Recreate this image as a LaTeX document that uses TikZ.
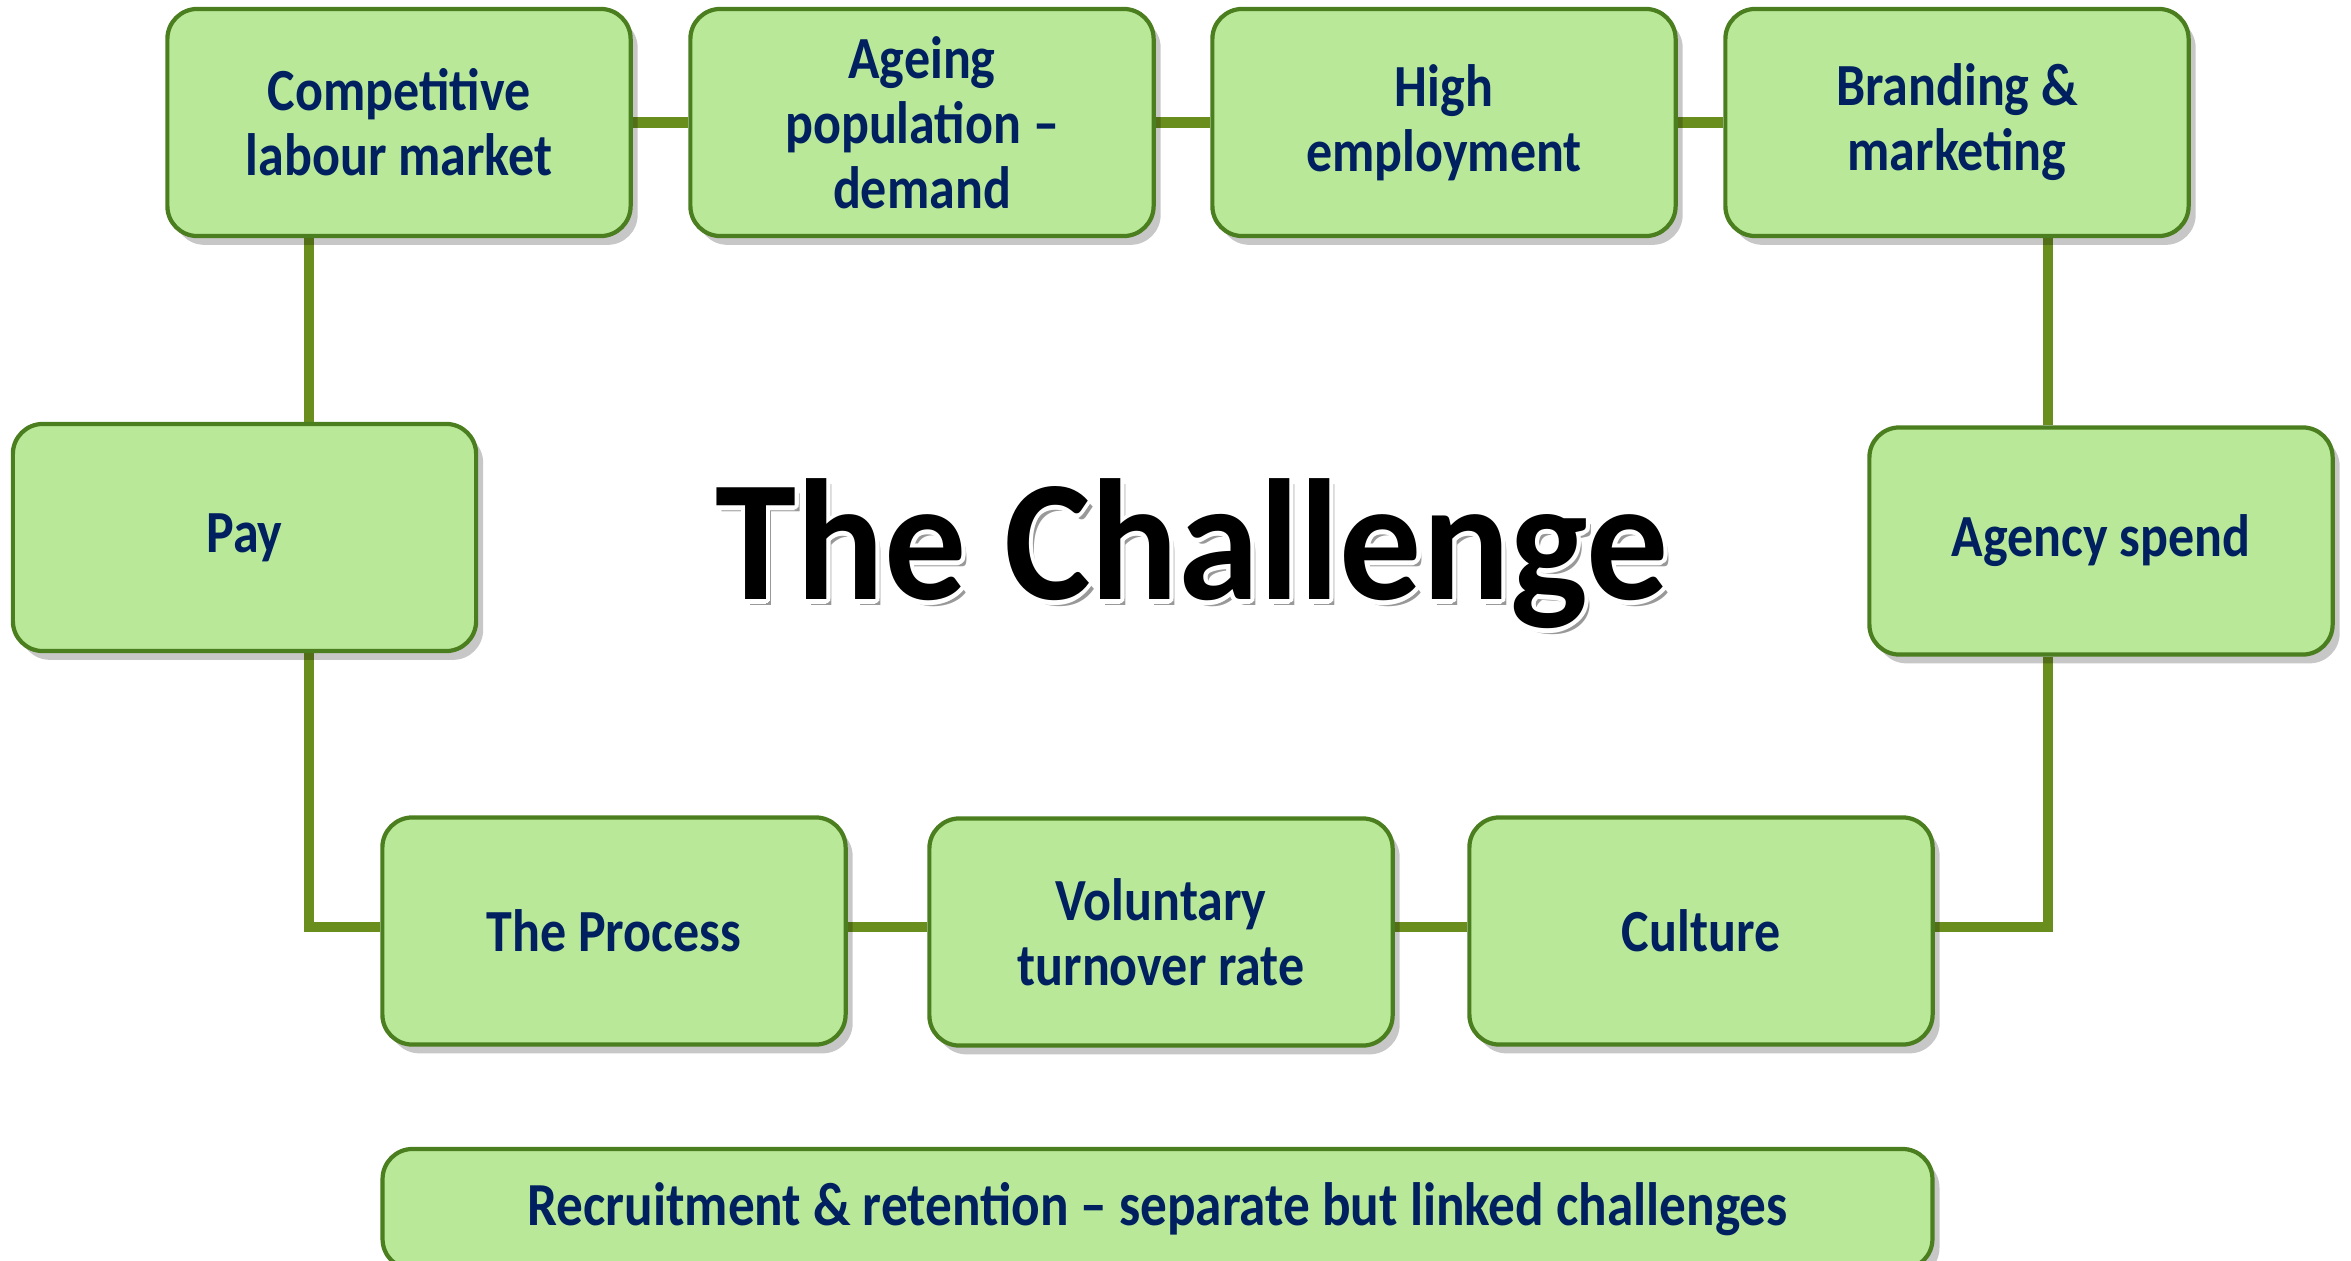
\documentclass[tikz,border=0pt]{standalone}
\usepackage{fontspec}
\newfontfamily\boxfont{Carlito}[FakeStretch=0.87]
\newfontfamily\titlefont{Carlito}[FakeStretch=0.95]
\usepackage{xcolor}
\usepackage{contour}
\contourlength{1.2pt}
\usetikzlibrary{positioning}
\usetikzlibrary{shadows}
\usetikzlibrary{backgrounds}
\definecolor{boxfill}{HTML}{B8E898}
\definecolor{boxline}{HTML}{4A7E1E}
\definecolor{linkline}{HTML}{6A8E1E}
\definecolor{navy}{HTML}{002060}

\begin{document}
\begin{tikzpicture}[x=0.01cm, y=-0.01cm,
    issue/.style={draw=boxline, line width=1.2pt, fill=boxfill, rounded corners=0.3cm,
      minimum width=4.63cm, minimum height=2.27cm, align=center, text=navy,
      font=\boxfont\bfseries\fontsize{17}{18.5}\selectfont,
      drop shadow={shadow xshift=2pt, shadow yshift=-2.5pt, opacity=0.22, fill=black}},
    link/.style={draw=linkline, line width=3pt}]
  \useasboundingbox (0,0) rectangle (2351,1261);
  %--- Top row
  \node[issue] (comp)   at (399, 122.5)  {Competitive\\labour market};
  \node[issue] (ageing) at (922, 122.5)  {Ageing\\population –\\demand};
  \node[issue] (high)   at (1444, 122.5) {High\\employment};
  \node[issue] (brand)  at (1957, 122.5) {Branding \&\\marketing};
  %--- Middle row
  \node[issue] (pay)    at (244.5, 537.5) {Pay};
  \node[issue] (agency) at (2101, 541)    {Agency spend};
  %--- Bottom row
  \node[issue] (process) at (614, 931)  {The Process};
  \node[issue] (volun)   at (1161, 932) {Voluntary\\turnover rate};
  \node[issue] (culture) at (1701, 931) {Culture};
  %--- Footer
  \node[issue, minimum width=15.49cm, minimum height=1.2cm,
    font=\boxfont\bfseries\fontsize{17.4}{19}\selectfont] (footer) at (1157.5, 1209)
    {Recruitment \& retention – separate but linked challenges};
  %--- Title
  \node[anchor=base, text=black!40, font=\titlefont\bfseries\fontsize{49}{51}\selectfont]
    (titleshadow) at (1197, 605) {The Challenge};
  \node[anchor=base, text=black, font=\titlefont\bfseries\fontsize{49}{51}\selectfont]
    (title) at (1192, 600) {\contour{white}{The Challenge}};
  %--- Links
  \coordinate (lx) at (309, 0);
  \coordinate (rx) at (2048, 0);
  \coordinate (by) at (0, 927);
  \begin{scope}[on background layer]
    \draw[link] (comp.east) -- (ageing.west);
    \draw[link] (ageing.east) -- (high.west);
    \draw[link] (high.east) -- (brand.west);
    \draw[link] (comp.south -| lx) -- (pay.north -| lx);
    \draw[link] (pay.south -| lx) |- (process.west |- by);
    \draw[link] (process.east |- by) -- (volun.west |- by);
    \draw[link] (volun.east |- by) -- (culture.west |- by);
    \draw[link] (culture.east |- by) -| (agency.south -| rx);
    \draw[link] (agency.north -| rx) -- (brand.south -| rx);
  \end{scope}
\end{tikzpicture}
\end{document}
